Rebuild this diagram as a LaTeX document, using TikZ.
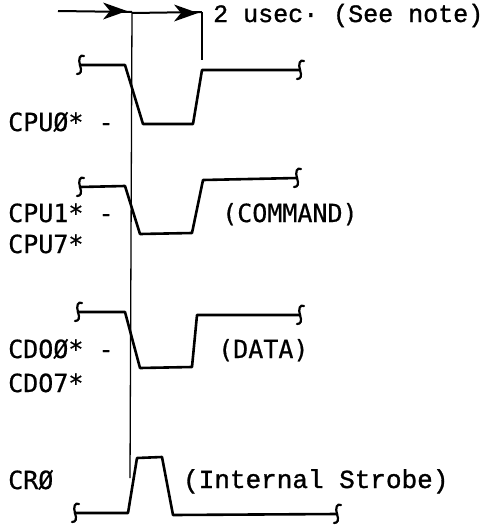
\documentclass[tikz,border=0pt]{standalone}
\usepackage{fontspec}
\setmainfont[FakeBold=1.2]{Liberation Mono}
\newfontfamily\labfont[FakeBold=0.6]{DejaVu Sans Mono}
\usetikzlibrary{arrows.meta}
\begin{document}
\begin{tikzpicture}[x=1pt,y=-1pt,
  wave/.style={line width=2.6pt,line join=round,line cap=round},
  refline/.style={line width=1.3pt},
  timeline/.style={line width=2pt},
  head/.pic={\fill (0,0) -- (-24,-8.5) -- (-17,0) -- (-24,8.5) -- cycle;},
  lab/.style={font=\labfont\fontsize{25}{25}\selectfont,anchor=base west,inner sep=0pt},
  note/.style={font=\fontsize{25}{25}\selectfont,anchor=base west,inner sep=0pt},
  brk/.pic={\draw[line width=2.2pt,line cap=round] (4,-9) .. controls (0,-11) and (-2,-6) .. (0,0) .. controls (2,6) and (1,9) .. (-3,9);}]
\useasboundingbox (0,0) rectangle (490,528);
% reference lines
\coordinate (vt) at (132,12);
\coordinate (vb) at (130,478);
\coordinate (rt) at (202,12);
\coordinate (rb) at (202,60);
\draw[refline] (vt) -- (vb);
\draw[refline] (rt) -- (rb);
% timing arrows
\coordinate (a0) at (58,11);
\coordinate (a1) at (127,11);
\coordinate (b0) at (132,13);
\coordinate (a2) at (198,13);
\draw[timeline] (a0) -- (vt);
\pic at (a1) {head};
\draw[timeline] (b0) -- (rt);
\pic at (a2) {head};
\node[note] (usec) at (213,22) {2 usec· (See note)};
% CPU0
\draw[wave] (80,65) -- (125,65) -- (143,124) -- (193,124) -- (202,70) -- (300,70);
\pic at (80,65) {brk};
\pic at (300,70) {brk};
\node[lab] (cpu0) at (8,131) {CPUØ* -};
% CPU1
\draw[wave] (80,187) -- (125,186) -- (140,234) -- (192,233) -- (203,180) -- (297,178);
\pic at (80,187) {brk};
\pic at (297,178) {brk};
\node[lab] (cpu1) at (8,222) {CPU1* -};
\node[lab] (cpu7) at (8,253) {CPU7*};
\node[lab] (cmd) at (222,222) {(COMMAND)};
% CDO
\draw[wave] (78,312) -- (125,312) -- (140,368) -- (192,367) -- (197,315) -- (300,315);
\pic at (78,312) {brk};
\pic at (300,315) {brk};
\node[lab] (cdo0) at (8,358) {CDOØ* -};
\node[lab] (cdo7) at (8,392) {CDO7*};
\node[lab] (data) at (218,358) {(DATA)};
% CR0
\draw[wave] (75,513) -- (128,513) -- (137,458) -- (162,457) -- (173,515) -- (337,514);
\pic at (75,513) {brk};
\pic at (337,514) {brk};
\node[lab] (cr0) at (8,489) {CRØ};
\node[note,font=\fontsize{26}{26}\selectfont] (strobe) at (183,488) {(Internal Strobe)};
\end{tikzpicture}
\end{document}
